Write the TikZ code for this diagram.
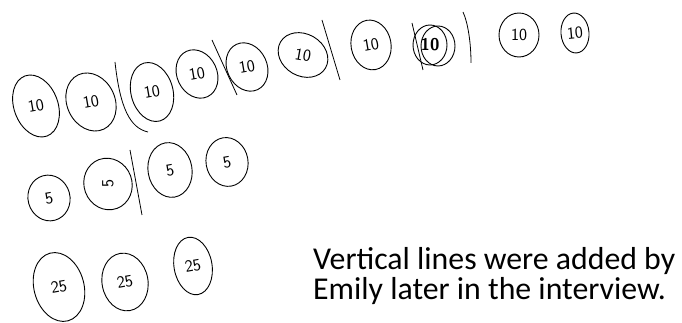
\documentclass[tikz,border=0pt]{standalone}
\usepackage{fontspec}
\newfontfamily\calibri{Carlito}
\usetikzlibrary{positioning,shapes.geometric}

\newcommand{\coinat}[6]{% name, x, y, half width, half height, angle
  \coordinate (#1) at (#2,#3);
  \draw[coinrim, rotate around={#6:(#1)}] (#1) ellipse ({#4} and {#5});
}

\begin{document}
\begin{tikzpicture}[x=1pt,y=1pt,
  coinrim/.style={line width=0.9pt},
  coinval/.style={inner sep=0pt, font=\sffamily\fontsize{17}{17}\selectfont},
  strokeline/.style={line width=0.8pt}]

\useasboundingbox (0,0) rectangle (682,323);

%% 10 (上段)
\coinat{c1}{36}{217}{22}{32}{20}
\coinat{c2}{91}{221}{24}{30}{25}
\coinat{c3}{152}{231}{21}{30}{15}
\coinat{c4}{197}{249}{20}{25}{25}
\coinat{c5}{247}{256}{20}{25}{25}
\coinat{c6}{303}{268}{26}{21}{-30}
\coinat{c7}{371}{278}{20}{25}{10}
\coinat{c8}{430}{278}{17}{20}{0}
\coinat{c8b}{438}{277}{17}{20}{0}
\coinat{c9}{519}{288}{20}{22}{0}
\coinat{c10}{575}{290}{14}{20}{5}

\node[coinval, rotate=10] (t1) at (c1) {10};
\node[coinval, rotate=10] (t2) at (c2) {10};
\node[coinval, rotate=10] (t3) at (c3) {10};
\node[coinval, rotate=10] (t4) at (c4) {10};
\node[coinval, rotate=10] (t5) at (c5) {10};
\node[coinval, rotate=-10] (t6) at (c6) {10};
\node[coinval, rotate=10] (t7) at (c7) {10};
\node[coinval, font=\sffamily\bfseries\fontsize{17}{17}\selectfont] (t8) at (c8) {10};
\node[coinval] (t9) at (c9) {10};
\node[coinval, rotate=5] (t10) at (c10) {10};

%% 5 (中段)
\coinat{d1}{49}{125}{21}{23}{15}
\coinat{d2}{108}{139}{24}{26}{20}
\coinat{d3}{170}{153}{22}{27.5}{10}
\coinat{d4}{227}{161}{21}{24.5}{10}

\node[coinval, rotate=10] (u1) at (d1) {5};
\node[coinval, rotate=90] (u2) at (d2) {5};
\node[coinval, rotate=10] (u3) at (d3) {5};
\node[coinval, rotate=10] (u4) at (d4) {5};

%% 25 (下段)
\coinat{e1}{59}{36}{25}{35}{15}
\coinat{e2}{125}{41}{23}{29}{10}
\coinat{e3}{193}{57}{19}{29}{10}

\node[coinval, rotate=10] (v1) at (e1) {25};
\node[coinval, rotate=10] (v2) at (e2) {25};
\node[coinval, rotate=10] (v3) at (e3) {25};

%% 縦線
\draw[strokeline] (115,261) .. controls (120,215) and (130,195) .. (148,191);
\draw[strokeline] (212,283) -- (237,228);
\draw[strokeline] (322,303) -- (340,243);
\draw[strokeline] (412,300) -- (423,253);
\draw[strokeline] (463,311) .. controls (468,300) and (471,280) .. (471,260);
\draw[strokeline] (130,173) -- (142,108);

%% 説明
\node[font=\calibri\fontsize{31.8}{30}\selectfont, align=left, anchor=north west,
  inner sep=0pt] (note) at (313,76) {Vertical lines were added by\\Emily later in the interview.};

\end{tikzpicture}
\end{document}
